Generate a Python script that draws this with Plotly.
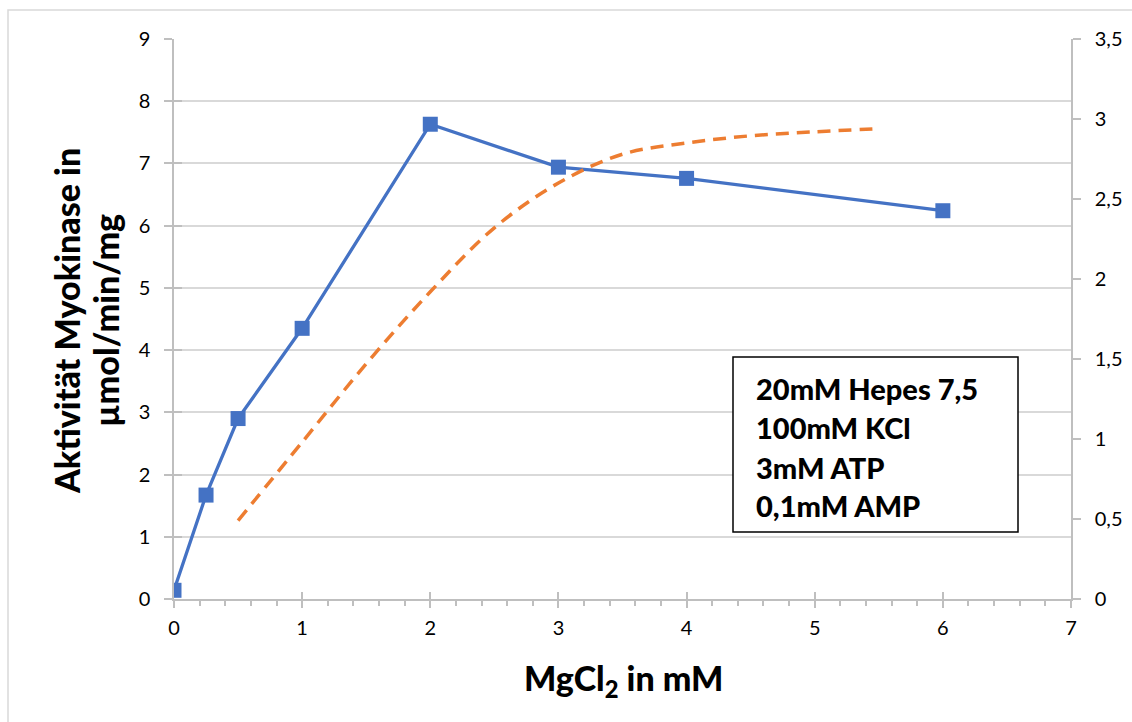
import plotly.graph_objects as go

# Myokinase activity vs. MgCl2 concentration
mgcl2_mM = [0, 0.25, 0.5, 1, 2, 3, 4, 6]
activity = [0.14, 1.67, 2.90, 4.35, 7.63, 6.94, 6.76, 6.24]

# Trend curve (secondary axis)
trend_x = [0.5, 1.0, 1.5, 2.0, 2.5, 3.0, 3.5, 4.0, 4.5, 5.0, 5.5]
trend_y = [0.49, 0.98, 1.47, 1.92, 2.32, 2.60, 2.78, 2.85, 2.895, 2.92, 2.94]

# Axis titles and buffer conditions shown in the box
x_title = "MgCl<sub>2</sub> in mM"
y_title_lines = ["Aktivität Myokinase in", "µmol/min/mg"]
conditions = ["20mM Hepes 7,5", "100mM KCl", "3mM ATP", "0,1mM AMP"]

FONT = "Lato"
AXIS_GREY = "#BFBFBF"
GRID_GREY = "#D9D9D9"
BLUE = "#4472C4"
ORANGE = "#ED7D31"

W, H = 1132, 722
L, R, T, B = 174, 61, 39, 123
PW, PH = W - L - R, H - T - B


def px_x(p):
    return (p - L) / PW


def px_y(p):
    return (H - B - p) / PH


fig = go.Figure()

fig.add_trace(go.Scatter(
    x=mgcl2_mM, y=activity, mode="lines+markers",
    line=dict(color=BLUE, width=3.3),
    marker=dict(symbol="square", size=15, color=BLUE),
    showlegend=False, hoverinfo="x+y",
))

fig.add_trace(go.Scatter(
    x=trend_x, y=trend_y, mode="lines", yaxis="y2",
    line=dict(color=ORANGE, width=3.5, dash="13px,8px", shape="spline"),
    showlegend=False, hoverinfo="skip",
))

# helper trace for the inner half of the crossing tick marks
fig.add_trace(go.Scatter(x=[None], y=[None], xaxis="x2", yaxis="y3",
                         showlegend=False, hoverinfo="skip"))

tick_font = dict(size=20, color="#000000")

fig.update_layout(
    width=W, height=H,
    margin=dict(l=L, r=R, t=T, b=B, autoexpand=False),
    paper_bgcolor="white", plot_bgcolor="white",
    separators=",.",
    font=dict(family=FONT, color="#000000"),
    xaxis=dict(
        range=[0, 7], dtick=1, tick0=0, automargin=False,
        showline=True, linecolor=AXIS_GREY, linewidth=1.5,
        showgrid=False, zeroline=False,
        ticks="outside", ticklen=7, tickcolor=AXIS_GREY, tickwidth=1.5,
        minor=dict(dtick=0.2, ticks="outside", ticklen=5, tickcolor=AXIS_GREY, tickwidth=1.5),
        tickfont=tick_font,
        ticklabelstandoff=3,
    ),
    yaxis=dict(
        range=[0, 9], dtick=1, tick0=0, automargin=False,
        showline=True, linecolor=AXIS_GREY, linewidth=1.5,
        showgrid=True, gridcolor=GRID_GREY, gridwidth=1.5, zeroline=False,
        ticks="outside", ticklen=8, tickcolor=AXIS_GREY, tickwidth=1.5,
        tickfont=tick_font,
        ticklabelstandoff=10,
    ),
    yaxis2=dict(
        range=[0, 3.5], dtick=0.5, tick0=0, overlaying="y", side="right", automargin=False,
        showline=True, linecolor=AXIS_GREY, linewidth=1.5,
        showgrid=False, zeroline=False,
        ticks="outside", ticklen=8, tickcolor=AXIS_GREY, tickwidth=1.5,
        tickfont=tick_font,
        ticklabelstandoff=10,
    ),
    xaxis2=dict(
        range=[0, 7], dtick=1, tick0=0, overlaying="x", anchor="y3", automargin=False,
        showline=False, showgrid=False, zeroline=False, showticklabels=False,
        ticks="inside", ticklen=7, tickcolor=AXIS_GREY, tickwidth=1.5,
    ),
    yaxis3=dict(
        range=[0, 9], dtick=1, tick0=0, overlaying="y", anchor="x2", side="left",
        automargin=False,
        showline=False, showgrid=False, zeroline=False, showticklabels=False,
        ticks="inside", ticklen=8, tickcolor=AXIS_GREY, tickwidth=1.5,
    ),
)

title_font = dict(family=FONT, size=34, color="#000000", weight=900)

# x axis title
fig.add_annotation(text=x_title, xref="paper", yref="paper",
                   x=px_x(623), y=px_y(680), xanchor="center", yanchor="middle",
                   showarrow=False, font=title_font)

# y axis title, two rotated lines
for txt, xc in zip(y_title_lines, [66, 105]):
    fig.add_annotation(text=txt, xref="paper", yref="paper", textangle=-90,
                       x=px_x(xc), y=px_y(321), xanchor="center", yanchor="middle",
                       showarrow=False, font=title_font)

# outer chart frame
fig.add_shape(type="rect", xref="paper", yref="paper",
              x0=px_x(8), x1=px_x(1145), y0=px_y(740), y1=px_y(10),
              line=dict(color=GRID_GREY, width=1.5), fillcolor="rgba(0,0,0,0)",
              layer="below")

# conditions box
fig.add_shape(type="rect", xref="paper", yref="paper",
              x0=px_x(733), x1=px_x(1018), y0=px_y(532), y1=px_y(357),
              line=dict(color="#000000", width=1.5), fillcolor="white",
              layer="above")

line_centres = [388, 427, 468, 505]
for txt, yc in zip(conditions, line_centres):
    fig.add_annotation(text=txt, xref="paper", yref="paper",
                       x=px_x(754), y=px_y(yc), xanchor="left", yanchor="middle",
                       showarrow=False,
                       font=dict(family=FONT, size=29, color="#000000", weight=900))

fig.write_html("out.html")
